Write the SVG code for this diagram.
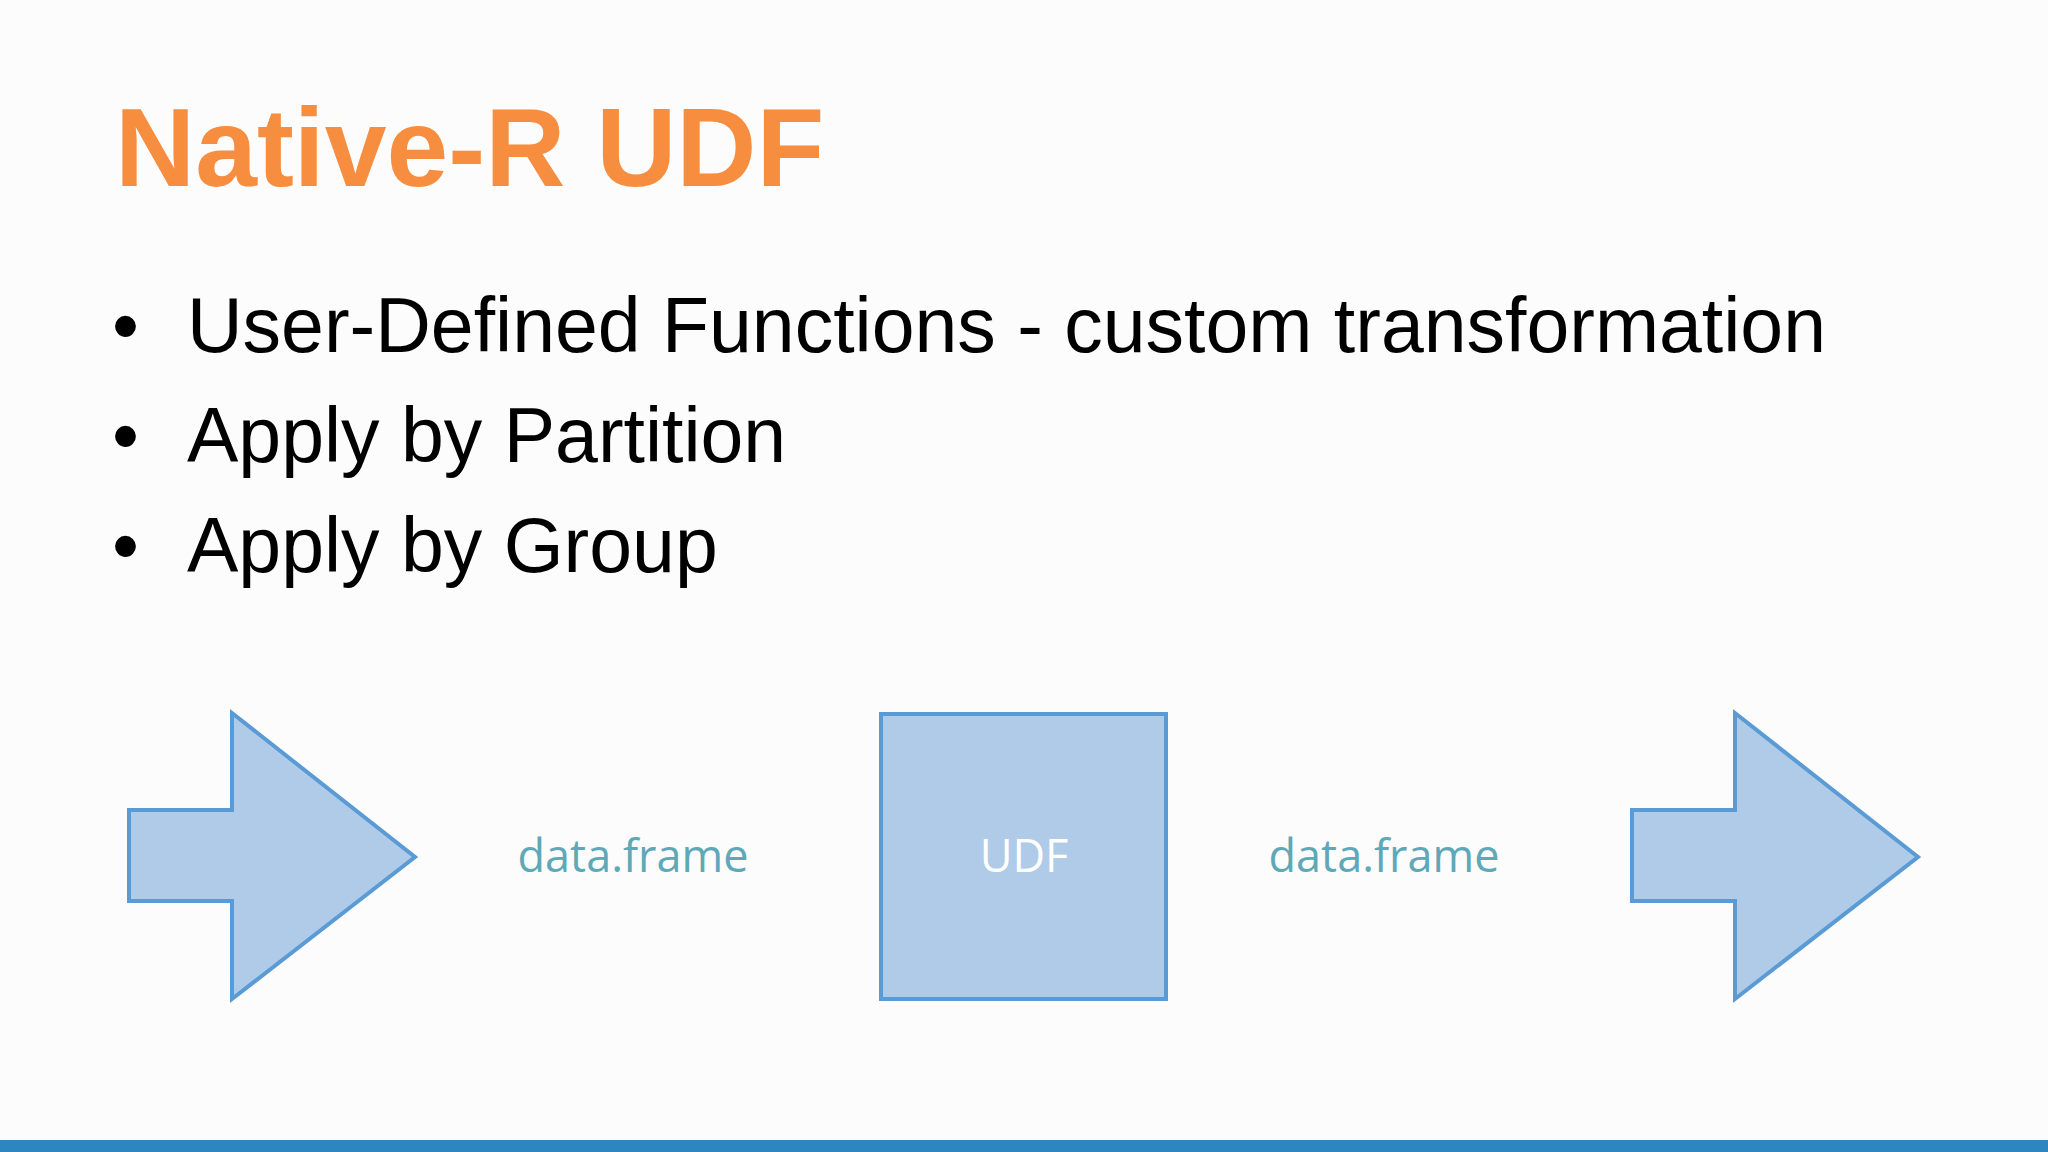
<svg xmlns="http://www.w3.org/2000/svg" width="2048" height="1152" viewBox="0 0 2048 1152">
<style>
.b{font-family:"Liberation Sans",Arial,sans-serif;font-size:77px;fill:#000}
.s{fill:#AFCBE8;stroke:#5B9BD5;stroke-width:4}
.l{font-family:"Open Sans","Liberation Sans",sans-serif;font-size:45px;fill:#5FA8B8;text-anchor:middle}
</style>
<rect width="2048" height="1152" fill="#FCFCFC"/>
<text x="115" y="186" font-family="Liberation Sans,Arial,sans-serif" font-weight="bold" font-size="111" fill="#F78D3F">Native-R UDF</text>
<g id="bullets">
<text class="b" x="112" y="352">•</text><text class="b" x="187" y="352">User-Defined Functions - custom transformation</text>
<text class="b" x="112" y="462">•</text><text class="b" x="187" y="462">Apply by Partition</text>
<text class="b" x="112" y="572">•</text><text class="b" x="187" y="572">Apply by Group</text>
</g>
<g id="arrow-in"><polygon class="s" points="129,810 232,810 232,713 415,857 232,999 232,901 129,901"/></g>
<g id="label-in"><text class="l" x="633" y="872">data.frame</text></g>
<g id="udf"><rect class="s" x="881" y="714" width="285" height="285"/><text class="l" x="1024" y="872" style="fill:#fff">UDF</text></g>
<g id="label-out"><text class="l" x="1384" y="872">data.frame</text></g>
<g id="arrow-out"><polygon class="s" points="1632,810 1735,810 1735,713 1918,857 1735,999 1735,901 1632,901"/></g>
<g id="connectors"></g>
<rect x="0" y="1140" width="2048" height="12" fill="#2E86C1"/>
</svg>
